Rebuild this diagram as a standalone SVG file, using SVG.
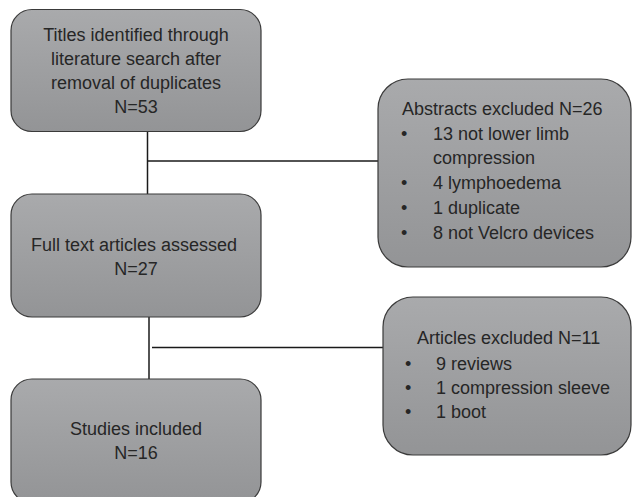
<svg xmlns="http://www.w3.org/2000/svg" width="632" height="497" viewBox="0 0 632 497">
<defs>
<linearGradient id="g" x1="0" y1="0" x2="0" y2="1">
<stop offset="0" stop-color="#a9aaac"/>
<stop offset="1" stop-color="#939496"/>
</linearGradient>
<style>
.box{fill:url(#g);stroke:#3a3a3a;stroke-width:1.2}
text{font-family:"Liberation Sans",Arial,sans-serif;font-size:18px;fill:#262626}
.c{text-anchor:middle}
.ln{stroke:#1a1a1a;stroke-width:1.5;fill:none}
</style>
</defs>
<rect width="632" height="497" fill="#ffffff"/>
<g id="connectors">
<line class="ln" x1="147.5" y1="132" x2="147.5" y2="194"/>
<line class="ln" x1="147.5" y1="161" x2="378" y2="161"/>
<line class="ln" x1="149" y1="317" x2="149" y2="379"/>
<line class="ln" x1="152" y1="347.5" x2="383" y2="347.5"/>
</g>
<g id="titles">
<rect class="box" x="11" y="9.5" width="250" height="122" rx="21"/>
<text class="c" x="136" y="41">Titles identified through</text>
<text class="c" x="136" y="65">literature search after</text>
<text class="c" x="136" y="89">removal of duplicates</text>
<text class="c" x="136" y="113">N=53</text>
</g>
<g id="abstracts">
<rect class="box" x="378" y="79" width="253" height="188" rx="30"/>
<text x="402" y="115">Abstracts excluded N=26</text>
<text x="401" y="140">•</text><text x="433" y="140">13 not lower limb</text>
<text x="433" y="164">compression</text>
<text x="401" y="189">•</text><text x="433" y="189">4 lymphoedema</text>
<text x="401" y="214">•</text><text x="433" y="214">1 duplicate</text>
<text x="401" y="239">•</text><text x="433" y="239">8 not Velcro devices</text>
</g>
<g id="fulltext">
<rect class="box" x="11" y="194" width="250" height="123" rx="21"/>
<text class="c" x="134" y="251">Full text articles assessed</text>
<text class="c" x="136" y="275">N=27</text>
</g>
<g id="articles">
<rect class="box" x="383" y="297" width="248" height="158" rx="30"/>
<text x="417" y="344">Articles excluded N=11</text>
<text x="405" y="370">•</text><text x="436" y="370">9 reviews</text>
<text x="405" y="394">•</text><text x="436" y="394">1 compression sleeve</text>
<text x="405" y="418">•</text><text x="436" y="418">1 boot</text>
</g>
<g id="studies">
<rect class="box" x="11" y="379" width="250" height="124" rx="21"/>
<text class="c" x="136" y="435">Studies included</text>
<text class="c" x="136" y="459">N=16</text>
</g>
</svg>
